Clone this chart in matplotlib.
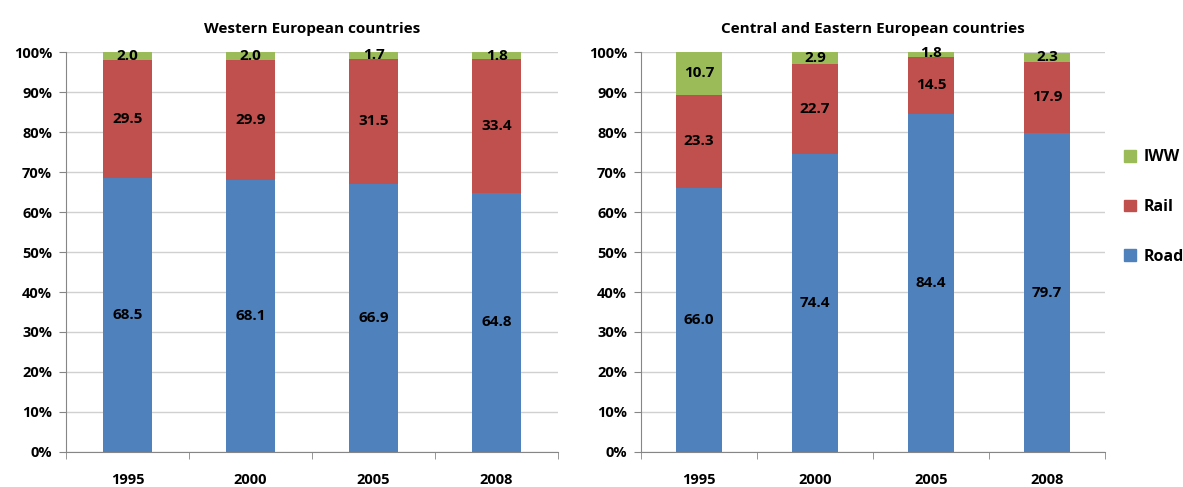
import numpy as np
import matplotlib.pyplot as plt
from matplotlib.patches import Patch

plt.rcParams['font.family'] = ['Open Sans', 'DejaVu Sans']
plt.rcParams['font.weight'] = 'bold'

years = ['1995', '2000', '2005', '2008']
west_road = [68.5, 68.1, 66.9, 64.8]
west_rail = [29.5, 29.9, 31.5, 33.4]
west_iww = [2.0, 2.0, 1.7, 1.8]
cee_road = [66.0, 74.4, 84.4, 79.7]
cee_rail = [23.3, 22.7, 14.5, 17.9]
cee_iww = [10.7, 2.9, 1.8, 2.3]

colors = {"Road": "#4F81BD", "Rail": "#C0504D", "IWW": "#9BBB59"}

def draw(ax, road, rail, iww, title):
	x = np.arange(len(years))
	road = np.array(road); rail = np.array(rail); iww = np.array(iww)
	ax.bar(x, road, 0.4, color=colors["Road"], zorder=2)
	ax.bar(x, rail, 0.4, bottom=road, color=colors["Rail"], zorder=2)
	ax.bar(x, iww, 0.4, bottom=road+rail, color=colors["IWW"], zorder=2)
	for i in range(len(x)):
		ax.text(x[i], road[i]/2, "%.1f" % road[i], ha='center', va='center', fontsize=11, fontweight='bold', zorder=3)
		ax.text(x[i], road[i]+rail[i]/2, "%.1f" % rail[i], ha='center', va='center', fontsize=11, fontweight='bold', zorder=3)
		ax.text(x[i], road[i]+rail[i]+iww[i]/2, "%.1f" % iww[i], ha='center', va='center', fontsize=11, fontweight='bold', zorder=3)
	ax.set_xlim(-0.5, len(x)-0.5)
	ax.set_ylim(0, 100)
	ax.set_yticks(np.arange(0, 101, 10))
	ax.set_yticklabels(["%d%%" % v for v in range(0, 101, 10)], fontsize=10.5, fontweight='bold')
	ax.set_xticks(x)
	ax.set_xticklabels(years, fontsize=10.5, fontweight='bold')
	ax.set_xticks(np.arange(-0.5, len(x)), minor=True)
	ax.tick_params(axis='x', which='major', length=0, pad=15)
	ax.tick_params(axis='x', which='minor', length=5, color='#868686')
	ax.tick_params(axis='y', length=5, color='#868686', pad=5)
	ax.yaxis.grid(True, color='#D0D0D0', linewidth=1, zorder=0)
	for s in ['top', 'right']:
		ax.spines[s].set_visible(False)
	for s in ['left', 'bottom']:
		ax.spines[s].set_color('#868686')
	ax.set_title(title, fontsize=11, fontweight='bold', pad=14)

fig = plt.figure(figsize=(11.83, 4.87), dpi=100)
ax1 = fig.add_axes([0.0558, 0.072, 0.4159, 0.821])
ax2 = fig.add_axes([0.5418, 0.072, 0.3922, 0.821])
draw(ax1, west_road, west_rail, west_iww, "Western European countries")
draw(ax2, cee_road, cee_rail, cee_iww, "Central and Eastern European countries")

handles = [Patch(color=colors[k]) for k in ["IWW", "Rail", "Road"]]
fig.legend(handles, ["IWW", "Rail", "Road"], loc='center left', bbox_to_anchor=(0.9505, 0.575),
	frameon=False, handlelength=0.75, handleheight=0.75, labelspacing=2.1, handletextpad=0.45,
	borderpad=0, borderaxespad=0, prop={'size': 11.5, 'weight': 'bold'})

fig.savefig("out.png", dpi=100)
